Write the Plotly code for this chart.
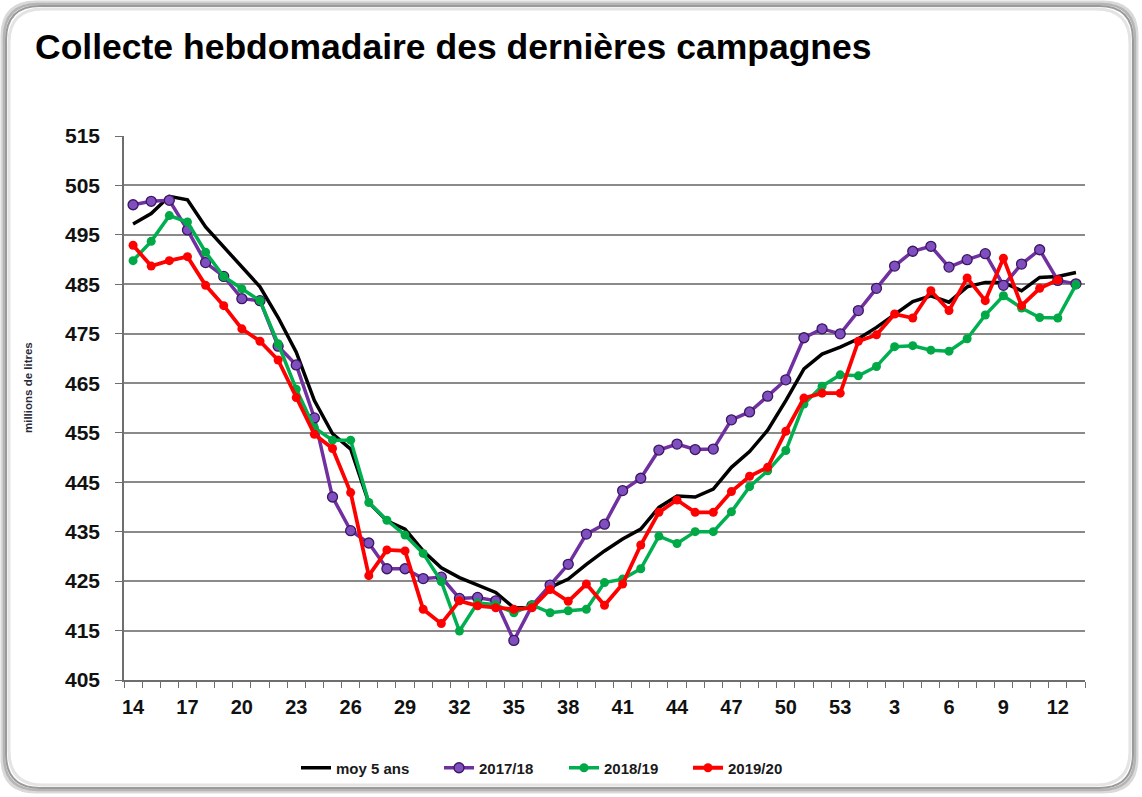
import plotly.graph_objects as go

weeks = [str(w) for w in range(14, 54)] + [str(w) for w in range(1, 14)]

moy_5_ans = [497.2, 499.3, 502.8, 502.1, 496.6, 492.5, 488.5, 484.5, 478.3, 471.3,
             461.5, 454.8, 451.7, 440.9, 437.2, 435.5, 431.1, 427.7, 425.7, 424.2,
             422.7, 419.6, 419.6, 423.7, 425.4, 428.4, 431.1, 433.5, 435.5, 439.9,
             442.2, 442.0, 443.6, 448.0, 451.2, 455.5, 461.5, 467.9, 470.9, 472.3,
             474.0, 476.3, 478.8, 481.5, 482.7, 481.4, 484.5, 485.4, 485.4, 483.7,
             486.4, 486.6, 487.4]

s2017_18 = [501.1, 501.8, 502.0, 496.0, 489.4, 486.6, 482.1, 481.7, 472.5, 468.7,
            458.0, 442.0, 435.2, 432.7, 427.5, 427.5, 425.5, 425.8, 421.5, 421.7,
            421.0, 413.0, 420.0, 424.2, 428.4, 434.5, 436.5, 443.3, 445.8, 451.5,
            452.7, 451.6, 451.7, 457.6, 459.2, 462.4, 465.7, 474.2, 476.0, 475.0,
            479.7, 484.2, 488.7, 491.7, 492.7, 488.5, 490.0, 491.2, 484.8, 489.1,
            492.0, 485.8, 485.1]

s2018_19 = [489.8, 493.7, 498.9, 497.6, 491.5, 486.6, 484.1, 481.7, 473.0, 463.8,
            456.0, 453.5, 453.5, 440.9, 437.3, 434.3, 430.6, 424.9, 414.9, 420.6,
            420.2, 418.6, 420.2, 418.6, 419.0, 419.3, 424.7, 425.4, 427.5, 434.1,
            432.6, 435.0, 435.0, 439.0, 444.1, 447.3, 451.4, 460.8, 464.4, 466.7,
            466.5, 468.4, 472.4, 472.6, 471.7, 471.5, 474.0, 478.8, 482.7, 480.2,
            478.3, 478.2, 484.9]

s2019_20 = [492.9, 488.7, 489.8, 490.6, 484.8, 480.7, 476.0, 473.5, 469.7, 462.1,
            454.7, 451.8, 442.9, 426.1, 431.3, 431.1, 419.3, 416.4, 421.0, 420.0,
            419.6, 419.3, 419.6, 423.3, 420.9, 424.4, 420.1, 424.4, 432.3, 438.9,
            441.4, 438.9, 438.9, 443.1, 446.2, 448.0, 455.3, 462.0, 463.0, 463.0,
            473.5, 474.8, 479.0, 478.2, 483.7, 479.7, 486.3, 481.7, 490.3, 480.7,
            484.2, 485.9]

y_ticks = list(range(405, 516, 10))
x_idx = list(range(len(weeks)))
tick_idx = x_idx[::3]
tick_txt = [weeks[i] for i in tick_idx]

FONT = "Liberation Sans"
W, H = 1142, 797
L, R, T, B = 124, 57, 136, 117
PW, PH = W - L - R, H - T - B


def px(x):
    return (x - L) / PW


def py(y):
    return (H - B - y) / PH


def rrect(x0, y0, x1, y1, r):
    pts = [("M", [(x0 + r, y0)]), ("L", [(x1 - r, y0)]), ("Q", [(x1, y0), (x1, y0 + r)]),
           ("L", [(x1, y1 - r)]), ("Q", [(x1, y1), (x1 - r, y1)]), ("L", [(x0 + r, y1)]),
           ("Q", [(x0, y1), (x0, y1 - r)]), ("L", [(x0, y0 + r)]), ("Q", [(x0, y0), (x0 + r, y0)])]
    s = ""
    for c, ps in pts:
        s += c + " " + " ".join(f"{px(a):.5f},{py(b):.5f}" for a, b in ps) + " "
    return s + "Z"


fig = go.Figure()
fig.add_trace(go.Scatter(x=x_idx, y=moy_5_ans, name="moy 5 ans", mode="lines", legend="legend",
                         line=dict(color="#000000", width=3.5)))
fig.add_trace(go.Scatter(x=x_idx, y=s2017_18, name="2017/18", mode="lines+markers", legend="legend2",
                         line=dict(color="#7030A0", width=3.5),
                         marker=dict(size=10, color="#7F4FBF", line=dict(color="#3B1660", width=1.3))))
fig.add_trace(go.Scatter(x=x_idx, y=s2018_19, name="2018/19", mode="lines+markers", legend="legend3",
                         line=dict(color="#00B050", width=3.5),
                         marker=dict(size=9, color="#00A846")))
fig.add_trace(go.Scatter(x=x_idx, y=s2019_20, name="2019/20", mode="lines+markers", legend="legend4",
                         line=dict(color="#FF0000", width=3.8),
                         marker=dict(size=9, color="#FF0000")))

shapes = []
for inset, col, w in [(2, "#d9d9d9", 3), (4, "#b5b5b5", 2.5), (6, "#9a9a9a", 2), (9, "#e4e4e4", 3)]:
    shapes.append(dict(type="path", xref="paper", yref="paper", layer="below",
                       path=rrect(inset, inset, W - inset - 3, H - inset - 3, 34),
                       line=dict(color=col, width=w)))


def leg(xpix):
    return dict(orientation="h", x=px(xpix), y=py(768), xanchor="left", yanchor="middle",
                font=dict(family=FONT, size=15, color="#1a1a1a", weight="bold"),
                itemwidth=30, bgcolor="rgba(0,0,0,0)")


fig.update_layout(
    width=W, height=H,
    margin=dict(l=L, r=R, t=T, b=B),
    paper_bgcolor="white", plot_bgcolor="white",
    showlegend=True,
    legend=leg(296), legend2=leg(439), legend3=leg(564), legend4=leg(688),
    xaxis=dict(range=[-0.5, len(weeks) - 0.5], tickmode="array", tickvals=tick_idx, ticktext=tick_txt,
               ticks="", showgrid=False, zeroline=False, showline=True, linecolor="#6e6e6e", linewidth=1.5,
               tickfont=dict(family=FONT, size=20, color="#111111", weight="bold"),
               ticklabelstandoff=8,
               minor=dict(tickmode="linear", tick0=-0.5, dtick=1, ticks="outside", ticklen=6,
                          tickcolor="#6e6e6e", tickwidth=1.3, showgrid=False)),
    yaxis=dict(range=[405, 515], tickmode="array", tickvals=y_ticks, ticks="outside", ticklen=7,
               tickcolor="#6e6e6e", tickwidth=1.3,
               showgrid=True, gridcolor="#8a8a8a", gridwidth=1.6, zeroline=False,
               showline=True, linecolor="#6e6e6e", linewidth=1.5,
               tickfont=dict(family=FONT, size=21, color="#111111", weight="bold"),
               ticklabelstandoff=11),
    shapes=shapes,
    annotations=[
        dict(text="Collecte hebdomadaire des dernières campagnes", xref="paper", yref="paper",
             x=px(33), y=py(47), xanchor="left", yanchor="middle", showarrow=False,
             font=dict(family=FONT, size=35.5, color="#000000", weight="bold")),
        dict(text="millions de litres", xref="paper", yref="paper", x=px(28), y=py(388),
             xanchor="center", yanchor="middle", textangle=-90, showarrow=False,
             font=dict(family=FONT, size=11.5, color="#2a2a3a", weight="bold")),
    ],
)

fig.write_html("out.html")
